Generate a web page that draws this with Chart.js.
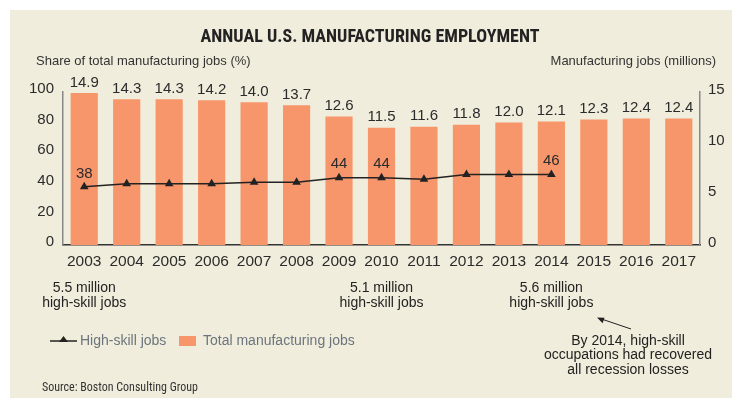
<!DOCTYPE html>
<html>
<head>
<meta charset="utf-8">
<script src="https://cdn.jsdelivr.net/npm/chart.js@4.4.1/dist/chart.umd.min.js"></script>
<style>
  html, body { margin: 0; padding: 0; background: #ffffff; }
  canvas { display: block; }
</style>
</head>
<body>
<canvas id="empleoChart" width="732" height="398"></canvas>
<script>
/* ============================
   DATOS
   ============================ */
const years = ["2003", "2004", "2005", "2006", "2007", "2008", "2009", "2010",
               "2011", "2012", "2013", "2014", "2015", "2016", "2017"];

// Empleo manufacturero total (millones) -> eje derecho
const totalJobs = [14.9, 14.3, 14.3, 14.2, 14.0, 13.7, 12.6, 11.5,
                   11.6, 11.8, 12.0, 12.1, 12.3, 12.4, 12.4];

// Cuota de empleos de alta cualificación (%) -> eje izquierdo
const highSkillShare = [38, 40, 40, 40, 41, 41, 44, 44, 43, 46, 46, 46];
const highSkillLabeled = [0, 6, 7, 11];

const leftTicks = [0, 20, 40, 60, 80, 100];
const rightTicks = [0, 5, 10, 15];

// Notas bajo el eje
const notes = [
  { year: "2003", lines: ["5.5 million", "high-skill jobs"] },
  { year: "2010", lines: ["5.1 million", "high-skill jobs"] },
  { year: "2014", lines: ["5.6 million", "high-skill jobs"] }
];
const callout = ["By 2014, high-skill", "occupations had recovered", "all recession losses"];

const TITLE = "ANNUAL U.S. MANUFACTURING EMPLOYMENT";
const LEFT_TITLE = "Share of total manufacturing jobs (%)";
const RIGHT_TITLE = "Manufacturing jobs (millions)";
const SOURCE = "Source: Boston Consulting Group";

/* ESTILO */
const BG = "#f1eddc";
const BAR = "#f7966b";
const INK = "#2b2b2b";
const FONT = "Liberation Sans, Arial, Helvetica, sans-serif";
const NARROW = "Roboto Condensed, Liberation Sans, sans-serif";

/* ============================
   PLUGIN: fondo, textos, etiquetas
   ============================ */
const decoPlugin = {
  id: "deco",
  beforeDraw(chart) {
    const ctx = chart.ctx;
    ctx.save();
    ctx.fillStyle = "#ffffff";
    ctx.fillRect(0, 0, chart.width, chart.height);
    ctx.fillStyle = BG;
    ctx.fillRect(10, 10, chart.width - 10, chart.height - 10);
    ctx.restore();
  },
  afterDraw(chart) {
    const ctx = chart.ctx;
    const x = chart.scales.x;
    ctx.save();

    // Título
    ctx.fillStyle = "#222";
    ctx.font = "bold 18px " + NARROW;
    ctx.textAlign = "center";
    ctx.textBaseline = "middle";
    ctx.fillText(TITLE, 370, 37, 348);

    // Títulos de ejes
    ctx.font = "13px " + FONT;
    ctx.fillStyle = "#333";
    ctx.textAlign = "left";
    ctx.fillText(LEFT_TITLE, 36, 61);
    ctx.textAlign = "right";
    ctx.fillText(RIGHT_TITLE, 716, 61);

    // Etiquetas de barras
    const barMeta = chart.getDatasetMeta(1);
    ctx.font = "15px " + FONT;
    ctx.fillStyle = INK;
    ctx.textAlign = "center";
    ctx.textBaseline = "bottom";
    barMeta.data.forEach((bar, i) => {
      ctx.fillText(totalJobs[i].toFixed(1), bar.x, bar.y - 3);
    });

    // Etiquetas de la línea
    const lineMeta = chart.getDatasetMeta(0);
    highSkillLabeled.forEach(i => {
      const p = lineMeta.data[i];
      ctx.fillText(String(highSkillShare[i]), p.x, p.y - 6);
    });

    // Notas bajo el eje
    ctx.font = "14px " + FONT;
    ctx.fillStyle = "#222";
    ctx.textBaseline = "middle";
    notes.forEach(n => {
      const cx = x.getPixelForValue(years.indexOf(n.year));
      n.lines.forEach((t, k) => ctx.fillText(t, cx, 288 + k * 15));
    });

    // Llamada con flecha
    callout.forEach((t, k) => ctx.fillText(t, 628, 341 + k * 14.5));
    ctx.strokeStyle = "#222";
    ctx.lineWidth = 1;
    ctx.beginPath();
    ctx.moveTo(631, 329);
    ctx.lineTo(600, 318.5);
    ctx.stroke();
    ctx.fillStyle = "#222";
    ctx.beginPath();
    ctx.moveTo(597, 317.5);
    ctx.lineTo(604.5, 317.8);
    ctx.lineTo(602.6, 323.3);
    ctx.closePath();
    ctx.fill();

    // Leyenda
    ctx.strokeStyle = "#222";
    ctx.lineWidth = 1.5;
    ctx.beginPath();
    ctx.moveTo(50, 341);
    ctx.lineTo(77, 341);
    ctx.stroke();
    ctx.fillStyle = "#222";
    ctx.beginPath();
    ctx.moveTo(63.5, 336);
    ctx.lineTo(68, 342);
    ctx.lineTo(59, 342);
    ctx.closePath();
    ctx.fill();
    ctx.font = "14px " + FONT;
    ctx.fillStyle = "#6b757e";
    ctx.textAlign = "left";
    ctx.fillText("High-skill jobs", 80, 341);
    ctx.fillStyle = BAR;
    ctx.fillRect(179, 336, 17, 10);
    ctx.fillStyle = "#6b757e";
    ctx.fillText("Total manufacturing jobs", 203, 341);

    // Fuente
    ctx.font = "12px " + NARROW;
    ctx.fillStyle = "#333";
    ctx.fillText(SOURCE, 42, 388, 156);

    ctx.restore();
  }
};

/* ============================
   GRÁFICO
   ============================ */
function crearGrafico() {
  const ctx = document.getElementById("empleoChart").getContext("2d");
  return new Chart(ctx, {
    data: {
      labels: years,
      datasets: [
        {
          type: "line",
          label: "High-skill jobs",
          data: highSkillShare,
          yAxisID: "yLeft",
          borderColor: "#222",
          borderWidth: 1.5,
          pointStyle: "triangle",
          pointRadius: 5,
          pointBackgroundColor: "#222",
          pointBorderColor: "#222",
          pointBorderWidth: 0,
          tension: 0,
          order: 0
        },
        {
          type: "bar",
          label: "Total manufacturing jobs",
          data: totalJobs,
          yAxisID: "yRight",
          backgroundColor: BAR,
          barPercentage: 0.64,
          categoryPercentage: 1,
          order: 1
        }
      ]
    },
    options: {
      responsive: false,
      animation: false,
      devicePixelRatio: 1,
      layout: { padding: { top: 92, left: 0, right: 0, bottom: 0 } },
      plugins: { legend: { display: false }, tooltip: { enabled: false } },
      scales: {
        x: {
          offset: true,
          grid: { display: false, drawTicks: false },
          border: { display: true, color: "#333", width: 1.5 },
          ticks: { color: INK, font: { family: FONT, size: 15.5 }, padding: 7, maxRotation: 0, autoSkip: false },
          afterFit(s) { s.height = 153; }
        },
        yLeft: {
          position: "left",
          min: 0, max: 100,
          afterBuildTicks(s) { s.ticks = leftTicks.map(v => ({ value: v })); },
          grid: { display: false, drawTicks: false },
          border: { display: true, color: "#888", width: 1.5 },
          ticks: { color: INK, font: { family: FONT, size: 15 }, padding: 9, labelOffset: -3 },
          afterFit(s) { s.width = 63; }
        },
        yRight: {
          position: "right",
          min: 0, max: 15,
          afterBuildTicks(s) { s.ticks = rightTicks.map(v => ({ value: v })); },
          grid: { display: false, drawTicks: false },
          border: { display: true, color: "#888", width: 1.5 },
          ticks: { color: INK, font: { family: FONT, size: 15 }, padding: 8, labelOffset: -2 },
          afterFit(s) { s.width = 32; }
        }
      }
    },
    plugins: [decoPlugin]
  });
}

crearGrafico();
</script>
</body>
</html>
